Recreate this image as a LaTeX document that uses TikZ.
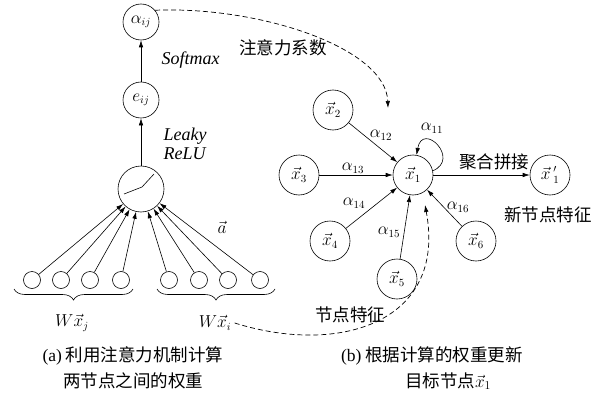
\documentclass[tikz,border=0pt]{standalone}
\usepackage{fontspec}
\setmainfont{Liberation Serif}
\newfontfamily\cjk{Noto Sans CJK SC}
\newfontfamily\latinf{Liberation Serif}
\usetikzlibrary{arrows.meta,decorations.pathreplacing}
\begin{document}
\begin{tikzpicture}[x=1pt,y=-1pt,
  every node/.style={font=\fontsize{16}{18}\selectfont},
  bignode/.style={draw,circle,inner sep=0pt,minimum size=36pt,line width=0.6pt},
  gnode/.style={draw,circle,inner sep=0pt,minimum size=40pt,line width=0.6pt},
  smnode/.style={draw,circle,inner sep=0pt,minimum size=17pt,line width=0.6pt},
  arr/.style={-{Latex[length=7pt,width=4.5pt]},line width=0.6pt},
  dsh/.style={dash pattern=on 5pt off 3pt,line width=0.7pt,-{Latex[length=7pt,width=4.5pt]}},
  cjklab/.style={font=\cjk\fontsize{17.5}{20}\selectfont},
  itlab/.style={font=\fontsize{18}{19}\selectfont\itshape},
  brc/.style={decorate,decoration={brace,amplitude=11pt},line width=0.6pt}]
\useasboundingbox (0,0) rectangle (609,393);
% ---------- (a) ----------
\node[bignode] (aij) at (141,22) {$\alpha_{ij}$};
\node[bignode] (eij) at (141,100) {$e_{ij}$};
\node[draw,circle,inner sep=0pt,minimum size=46pt,line width=0.6pt] (relu) at (141,189) {};
\draw[line width=0.6pt] ([shift={(-17pt,-5pt)}]relu.center) -- ([shift={(1pt,2pt)}]relu.center) -- ([shift={(13pt,15pt)}]relu.center);
\draw[arr] (eij) -- (aij);
\draw[arr] (relu) -- (eij);
\node[itlab,anchor=west] (sm) at (158,60) {Softmax};
\node[itlab,anchor=west,align=left] (lr) at (160,144) {Leaky\\ReLU};
\foreach \i/\x in {1/32,2/61,3/90,4/121,5/169,6/199,7/228,8/260}{
  \node[smnode] (b\i) at (\x,280) {};
  \draw[arr] (b\i) -- (relu);
}
\node (va) at (222,227) {$\vec{a}$};
\draw[brc] (133,289) -- (14,289);
\draw[brc] (275,289) -- (157,289);
\node (wxj) at (72,323) {$W\vec{x}_{j}$};
\node (wxi) at (215,323) {$W\vec{x}_{i}$};
\node[cjklab] (capa1) at (133,356) {{\latinf (a)} 利用注意力机制计算};
\node[cjklab] (capa2) at (133,381) {两节点之间的权重};
% ---------- (b) ----------
\node[gnode] (x1) at (413,175) {$\vec{x}_1$};
\node[gnode] (x2) at (333,110) {$\vec{x}_2$};
\node[gnode] (x3) at (299,175) {$\vec{x}_3$};
\node[gnode] (x4) at (330,241) {$\vec{x}_4$};
\node[gnode] (x5) at (397,279) {$\vec{x}_5$};
\node[gnode] (x6) at (476,241) {$\vec{x}_6$};
\node[gnode] (x1p) at (550,175) {$\vec{x}\,'_1$};
\draw[arr] (x2) -- (x1);
\draw[arr] (x3) -- (x1);
\draw[arr] (x4) -- (x1);
\draw[arr] (x5) -- (x1);
\draw[arr] (x6) -- (x1);
\draw[arr] (x1) -- (x1p);
\draw[arr] (x1.12) .. controls +(28,-12) and +(6,-34) .. (x1.80);
\node (a11) at (432,128) {$\alpha_{11}$};
\node (a12) at (381,135) {$\alpha_{12}$};
\node (a13) at (353,168) {$\alpha_{13}$};
\node (a14) at (354,203) {$\alpha_{14}$};
\node (a15) at (389,232) {$\alpha_{15}$};
\node (a16) at (458,207) {$\alpha_{16}$};
\node[cjklab] (agg) at (494,162) {聚合拼接};
\node[cjklab] (newf) at (548,215) {新节点特征};
\node[cjklab] (nodef) at (350,315) {节点特征};
\node[cjklab] (attc) at (283,48) {注意力系数};
\node[cjklab] (capb1) at (432,356) {{\latinf (b)} 根据计算的权重更新};
\node[cjklab] (capb2) at (448,381) {目标节点$\vec{x}_1$};
\coordinate (t1) at (388,108);
\coordinate (t2) at (425,205);
\draw[dsh] (aij.40) .. controls (260,6) and (386,48) .. (t1);
\draw[dsh] (wxi.east) .. controls (340,356) and (447,322) .. (t2);
\end{tikzpicture}
\end{document}
